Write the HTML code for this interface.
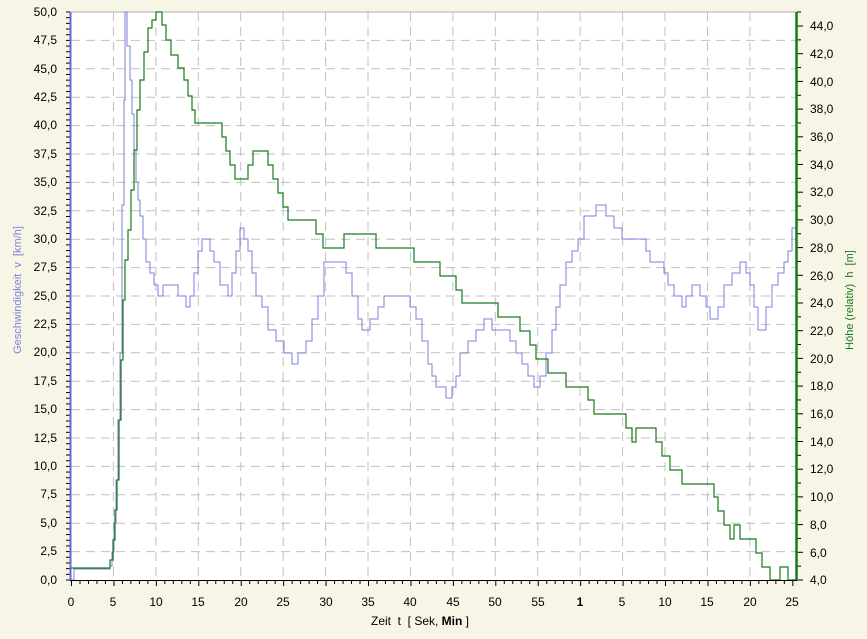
<!DOCTYPE html>
<html><head><meta charset="utf-8"><style>
html,body{margin:0;padding:0;background:#f7f5e6;}
svg{display:block;font-family:"Liberation Sans",sans-serif;font-size:12px;}
</style></head><body>
<svg id="s" width="867" height="639" viewBox="0 0 867 639" xmlns="http://www.w3.org/2000/svg">
<rect x="0" y="0" width="867" height="639" fill="#f7f5e6"/>
<rect x="70" y="12" width="726" height="568" fill="#fff"/>
<line x1="70" y1="12" x2="796" y2="12" stroke="#b0b0b0"/>
<g id="grid" stroke="#c0c0c0" stroke-dasharray="9,6"></g>
<g id="ticks" stroke="#000"></g>
<path fill="none" stroke="#7f7fdc" stroke-width="1" d="M71,580 H74 V569 H110 V566 H112 V552 H114 V523 H116 V480 H118 V420 H120 V353 H122 V205 H124 V100 H125 V12 H127 V46 H130 V80 H132 V114 H134 V150 H136 V182 H138 V200 H140 V216 H143 V239 H146 V262 H150 V273 H154 V285 H158 V296 H163 V285 H178 V296 H186 V307 H190 V296 H194 V273 H198 V251 H202 V239 H210 V251 H214 V262 H220 V285 H228 V296 H232 V273 H236 V251 H240 V228 H244 V239 H248 V251 H252 V273 H256 V296 H262 V307 H268 V330 H276 V341 H284 V353 H292 V364 H298 V353 H306 V341 H312 V319 H318 V296 H324 V262 H346 V273 H352 V296 H358 V319 H362 V330 H370 V319 H378 V307 H384 V296 H410 V307 H416 V319 H422 V341 H428 V364 H432 V376 H436 V387 H446 V398 H452 V387 H456 V376 H460 V353 H468 V341 H476 V330 H484 V319 H492 V330 H510 V341 H516 V353 H522 V364 H528 V376 H534 V387 H540 V376 H546 V353 H552 V330 H556 V307 H560 V285 H566 V262 H572 V251 H578 V239 H584 V216 H596 V205 H606 V216 H614 V228 H622 V239 H646 V251 H650 V262 H664 V273 H668 V285 H674 V296 H682 V307 H686 V296 H692 V285 H700 V296 H706 V307 H710 V319 H718 V307 H724 V285 H732 V273 H740 V262 H746 V273 H750 V285 H754 V307 H758 V330 H766 V307 H772 V285 H778 V273 H784 V262 H788 V251 H792 V228 H796"/>
<path fill="none" stroke="#1a7a1a" stroke-width="1.2" d="M71,568 H110 V560 H113 V540 H115 V510 H117 V480 H119 V420 H121 V360 H123 V300 H125 V260 H128 V230 H131 V190 H134 V150 H137 V110 H140 V80 H144 V52 H148 V28 H152 V20 H156 V12 H162 V25 H166 V40 H171 V55 H178 V68 H184 V80 H188 V96 H192 V110 H195 V123 H222 V137 H226 V151 H230 V165 H235 V179 H248 V165 H253 V151 H268 V165 H273 V179 H278 V193 H283 V207 H288 V220 H316 V234 H323 V248 H344 V234 H376 V248 H414 V262 H440 V276 H456 V290 H462 V303 H498 V317 H520 V331 H530 V345 H536 V359 H548 V373 H566 V387 H588 V400 H594 V414 H626 V428 H632 V442 H636 V428 H656 V442 H662 V456 H670 V470 H682 V484 H714 V497 H718 V511 H724 V525 H730 V539 H734 V525 H740 V539 H756 V553 H762 V567 H770 V580 H780 V567 H788 V580 H796"/>
<line x1="70.5" y1="12" x2="70.5" y2="580" stroke="#6666dd" stroke-width="2"/>
<line x1="796.5" y1="12" x2="796.5" y2="580" stroke="#1a7a1a" stroke-width="2.5"/>
<line x1="70" y1="580.5" x2="797" y2="580.5" stroke="#000"/>
<g text-anchor="end" fill="#000">
<text x="57" y="16">50,0</text><text x="57" y="44">47,5</text><text x="57" y="73">45,0</text><text x="57" y="101">42,5</text><text x="57" y="129">40,0</text><text x="57" y="158">37,5</text><text x="57" y="186">35,0</text><text x="57" y="215">32,5</text><text x="57" y="243">30,0</text><text x="57" y="271">27,5</text><text x="57" y="300">25,0</text><text x="57" y="328">22,5</text><text x="57" y="356">20,0</text><text x="57" y="385">17,5</text><text x="57" y="413">15,0</text><text x="57" y="442">12,5</text><text x="57" y="470">10,0</text><text x="57" y="498">7,5</text><text x="57" y="527">5,0</text><text x="57" y="555">2,5</text><text x="57" y="584">0,0</text>
</g>
<g fill="#000">
<text x="810" y="30">44,0</text><text x="810" y="58">42,0</text><text x="810" y="86">40,0</text><text x="810" y="113">38,0</text><text x="810" y="141">36,0</text><text x="810" y="169">34,0</text><text x="810" y="196">32,0</text><text x="810" y="224">30,0</text><text x="810" y="252">28,0</text><text x="810" y="280">26,0</text><text x="810" y="307">24,0</text><text x="810" y="335">22,0</text><text x="810" y="363">20,0</text><text x="810" y="390">18,0</text><text x="810" y="418">16,0</text><text x="810" y="446">14,0</text><text x="810" y="473">12,0</text><text x="810" y="501">10,0</text><text x="810" y="529">8,0</text><text x="810" y="557">6,0</text><text x="810" y="584">4,0</text>
</g>
<g text-anchor="middle" fill="#000">
<text x="71" y="606">0</text><text x="113" y="606">5</text><text x="156" y="606">10</text><text x="198" y="606">15</text><text x="241" y="606">20</text><text x="283" y="606">25</text><text x="326" y="606">30</text><text x="368" y="606">35</text><text x="410" y="606">40</text><text x="453" y="606">45</text><text x="495" y="606">50</text><text x="538" y="606">55</text><text x="580" y="606" font-weight="bold">1</text><text x="622" y="606">5</text><text x="665" y="606">10</text><text x="707" y="606">15</text><text x="750" y="606">20</text><text x="792" y="606">25</text>
<text x="420" y="625" xml:space="preserve">Zeit  t  [ Sek, <tspan font-weight="bold">Min</tspan> ]</text>
</g>
<text transform="translate(21,290) rotate(-90)" text-anchor="middle" fill="#8080dd" font-size="11" xml:space="preserve">Geschwindigkeit  v  [km/h]</text>
<text transform="translate(853,300) rotate(-90)" text-anchor="middle" fill="#1a7a1a" font-size="11" xml:space="preserve">Höhe (relativ)  h  [m]</text>
</svg>
<script>
var ns="http://www.w3.org/2000/svg",g=document.getElementById("grid"),t=document.getElementById("ticks");
function L(p,x1,y1,x2,y2){var l=document.createElementNS(ns,"line");l.setAttribute("x1",x1);l.setAttribute("y1",y1);l.setAttribute("x2",x2);l.setAttribute("y2",y2);p.appendChild(l);}
for(var i=1;i<20;i++){var y=12+28.4*i;L(g,71,y,796,y);}
for(var i=1;i<17;i++){var x=71+42.43*i;L(g,x,12,x,580);}
for(var i=0;i<=17*5;i++){var x=71+8.486*i;L(t,x+.5,580,x+.5,i%5==0?586:584);}
for(var i=0;i<=100;i++){var y=12+5.68*i;L(t,66,y,70,y);}
for(var i=0;i<=20;i++){var y=26+27.7*i;L(t,797,y,803,y);if(i<20)L(t,797,y+13.85,801,y+13.85);}
L(t,797,12,801,12);
</script>
</body></html>
